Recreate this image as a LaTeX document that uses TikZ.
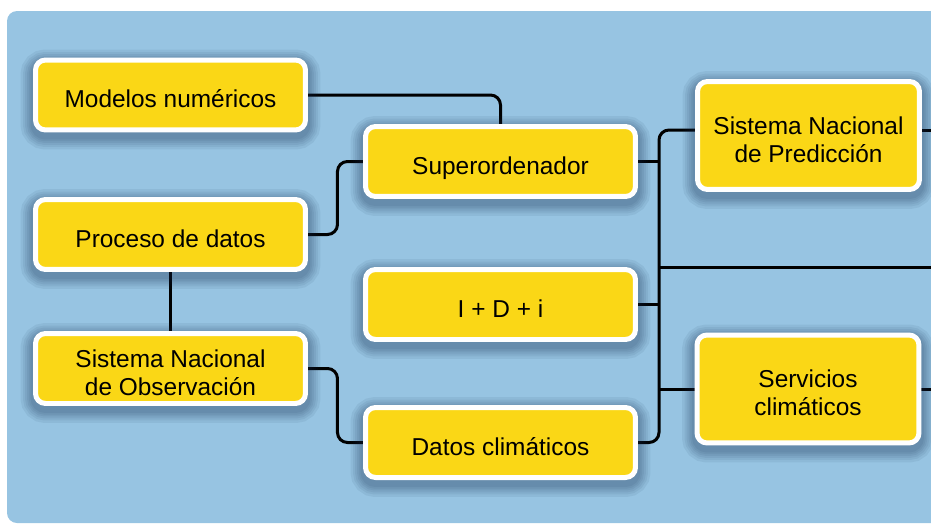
\documentclass[tikz,border=0pt]{standalone}
\usepackage{fontspec}
\setmainfont{Liberation Sans}
\usetikzlibrary{backgrounds}
\definecolor{skyblue}{RGB}{151,196,226}
\definecolor{boxyellow}{RGB}{250,215,22}
\definecolor{shade}{RGB}{20,45,80}
\newcommand{\topstrut}{\rule{0pt}{1.05em}}

\begin{document}
\begin{tikzpicture}[x=0.02cm, y=-0.02cm,
	halo/.style={preaction={draw=shade, draw opacity=0.07, line width=#1, transform canvas={yshift=-0.09cm}}},
	box/.style={rectangle, rounded corners=0.2cm, draw=white, line width=0.1cm, fill=boxyellow,
		minimum width=5.4cm, minimum height=1.4cm, align=center, inner sep=0pt,
		font=\fontsize{13.9pt}{15.9pt}\selectfont,
		halo=0.6cm, halo=0.5cm, halo=0.42cm, halo=0.34cm, halo=0.27cm, halo=0.2cm},
	oneline/.style={box, execute at begin node={\rule{0pt}{1.26em}}, execute at end node={\rule[-0.22em]{0pt}{0pt}}},
	bigbox/.style={box, minimum width=4.44cm, minimum height=2.16cm},
	link/.style={line width=0.06cm, black, rounded corners=0.2cm}]
	\useasboundingbox (0,0) rectangle (931,525);

	\draw (170.5,95) node (model) [oneline] {Modelos numéricos};
	\draw (170.5,234.5) node (proc) [oneline] {Proceso de datos};
	\draw (170.5,368.5) node (obs) [box] {\topstrut Sistema Nacional\\de Observación};
	\draw (500.5,161.5) node (super) [oneline] {Superordenador};
	\draw (500.5,304.5) node (idi) [oneline] {I + D + i};
	\draw (500.5,442.5) node (datos) [oneline] {Datos climáticos};
	\draw (808.5,135.5) node (pred) [bigbox] {\topstrut Sistema Nacional\\de Predicción};
	\draw (808,389) node (serv) [bigbox] {\topstrut Servicios\\climáticos};

	\coordinate (jp) at (659,130);
	\coordinate (out) at (940,267);

	\begin{pgfonlayer}{background}
		\clip (0,0) rectangle (931,525);
		\fill[skyblue, rounded corners=0.2cm] (7,11) rectangle (960,523);

		\draw[link] (model.east) -| (super.north);
		\draw[link] (proc.east) -- ++(29.5,0) |- (super.west);
		\draw[link] (proc.south) -- (obs.north);
		\draw[link] (obs.east) -- ++(29.5,0) |- (datos.west);

		% trunk on the right
		\draw[link] (datos.east) -| (jp) -- (jp -| pred.west);
		\draw[link] (super.east) -- (super.east -| jp);
		\draw[link] (idi.east) -- (idi.east -| jp);
		\draw[link] (out -| jp) -- (out);
		\draw[link] (serv.west -| jp) -- (serv.west);
		\draw[link] (pred.east |- jp) -- ++(40,0);
		\draw[link] (serv.east) -- ++(40,0);
	\end{pgfonlayer}
\end{tikzpicture}
\end{document}
